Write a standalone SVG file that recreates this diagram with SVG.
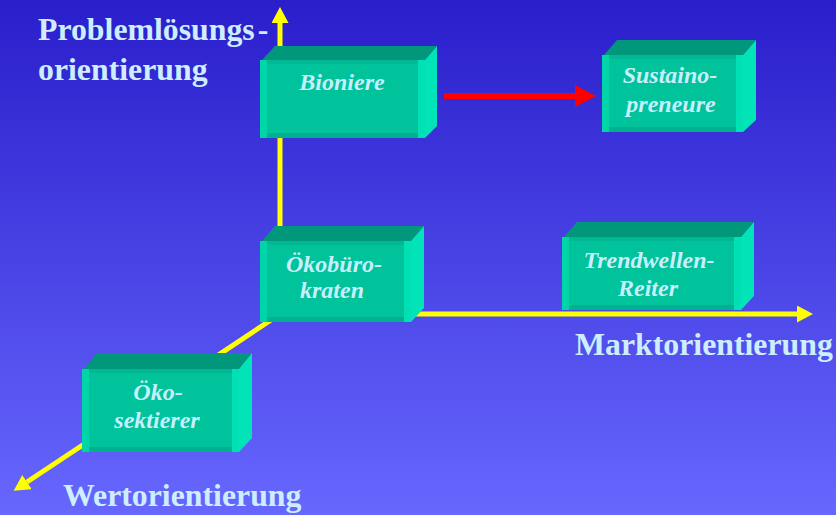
<svg xmlns="http://www.w3.org/2000/svg" width="836" height="515" viewBox="0 0 836 515">
  <defs>
    <linearGradient id="bg" x1="0" y1="0" x2="0" y2="1">
      <stop offset="0" stop-color="#2A1ECB"/>
      <stop offset="1" stop-color="#6767FE"/>
    </linearGradient>
    <marker id="ahY" markerUnits="userSpaceOnUse" markerWidth="18" markerHeight="18" refX="0" refY="8.5" orient="auto">
      <path d="M0,0 L16,8.5 L0,17 z" fill="#FFFF00"/>
    </marker>
    <marker id="ahR" markerUnits="userSpaceOnUse" markerWidth="24" markerHeight="24" refX="0" refY="11" orient="auto">
      <path d="M0,0 L21,11 L0,22 z" fill="#FF0000"/>
    </marker>
  </defs>
  <style>
    .top { fill: #01977A; }
    .side { fill: #00E4B8; }
    .front { fill: #00C29B; }
    .bl { fill: #00D4A9; }
    .br { fill: #00E0B5; }
    .bt { fill: #00B893; }
    .bb { fill: #00B08E; }
    .axis { stroke: #FFFF00; stroke-width: 5; fill: none; }
    .red { stroke: #FF0000; stroke-width: 6; fill: none; }
    .title { font-family: "Liberation Serif", "Times New Roman", serif; font-weight: bold; font-size: 31.8px; fill: #CCEEFF; }
    .lbl { font-family: "Liberation Serif", "Times New Roman", serif; font-weight: bold; font-style: italic; font-size: 24px; fill: #C8F0FC; text-anchor: middle; }
  </style>

  <rect x="0" y="0" width="836" height="515" fill="url(#bg)"/>

  <g id="connectors">
    <line class="axis" x1="280" y1="314" x2="280" y2="23" marker-end="url(#ahY)"/>
    <line class="axis" x1="280" y1="314" x2="797" y2="314" marker-end="url(#ahY)"/>
    <line class="axis" x1="280" y1="314" x2="27" y2="482" marker-end="url(#ahY)"/>
    <line class="red" x1="444" y1="96" x2="575" y2="96" marker-end="url(#ahR)"/>
  </g>

  <g id="axis-labels">
    <text class="title" x="38" y="40">Problemlösungs<tspan dx="3">-</tspan></text>
    <text class="title" x="38" y="80">orientierung</text>
    <text class="title" x="575" y="355">Marktorientierung</text>
    <text class="title" x="63" y="506">Wertorientierung</text>
  </g>

  <g id="bioniere">
    <polygon class="top" points="262,60 275,46 437,46 425,60"/>
    <polygon class="side" points="425,60 437,46 437,126 425,138"/>
    <rect class="front" x="260" y="60" width="165" height="78"/>
    <rect class="bl" x="260" y="60" width="7" height="78"/>
    <rect class="br" x="418" y="60" width="7" height="78"/>
    <rect class="bt" x="267" y="60" width="151" height="4"/>
    <rect class="bb" x="267" y="133" width="151" height="5"/>
    <text class="lbl" x="342" y="90">Bioniere</text>
  </g>

  <g id="sustainopreneure">
    <polygon class="top" points="604,55 617,40 756,40 743,55"/>
    <polygon class="side" points="743,55 756,40 756,120 743,132"/>
    <rect class="front" x="602" y="55" width="141" height="77"/>
    <rect class="bl" x="602" y="55" width="7" height="77"/>
    <rect class="br" x="736" y="55" width="7" height="77"/>
    <rect class="bt" x="609" y="55" width="127" height="4"/>
    <rect class="bb" x="609" y="127" width="127" height="5"/>
    <text class="lbl" x="670" y="83">Sustaino-</text>
    <text class="lbl" x="671" y="112">preneure</text>
  </g>

  <g id="oekobuerokraten">
    <polygon class="top" points="262,241 275,226 424,226 411,241"/>
    <polygon class="side" points="411,241 424,226 424,308 411,322"/>
    <rect class="front" x="260" y="241" width="151" height="81"/>
    <rect class="bl" x="260" y="241" width="7" height="81"/>
    <rect class="br" x="404" y="241" width="7" height="81"/>
    <rect class="bt" x="267" y="241" width="137" height="4"/>
    <rect class="bb" x="267" y="317" width="137" height="5"/>
    <text class="lbl" x="334" y="272">Ökobüro-</text>
    <text class="lbl" x="332" y="298">kraten</text>
  </g>

  <g id="trendwellen-reiter">
    <polygon class="top" points="564,237 577,222 754,222 741,237"/>
    <polygon class="side" points="741,237 754,222 754,296 741,310"/>
    <rect class="front" x="562" y="237" width="179" height="73"/>
    <rect class="bl" x="562" y="237" width="7" height="73"/>
    <rect class="br" x="734" y="237" width="7" height="73"/>
    <rect class="bt" x="569" y="237" width="165" height="4"/>
    <rect class="bb" x="569" y="305" width="165" height="5"/>
    <text class="lbl" x="649" y="268">Trendwellen-</text>
    <text class="lbl" x="648" y="296">Reiter</text>
  </g>

  <g id="oekosektierer">
    <polygon class="top" points="84,369 97,353 252,353 239,369"/>
    <polygon class="side" points="239,369 252,353 252,438 239,452"/>
    <rect class="front" x="82" y="369" width="157" height="83"/>
    <rect class="bl" x="82" y="369" width="7" height="83"/>
    <rect class="br" x="232" y="369" width="7" height="83"/>
    <rect class="bt" x="89" y="369" width="143" height="4"/>
    <rect class="bb" x="89" y="447" width="143" height="5"/>
    <text class="lbl" x="158" y="400">Öko-</text>
    <text class="lbl" x="157" y="428">sektierer</text>
  </g>
</svg>
